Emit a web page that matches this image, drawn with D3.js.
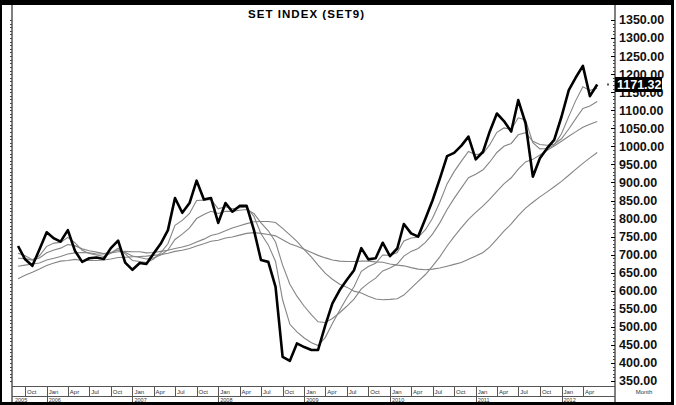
<!DOCTYPE html>
<html><head><meta charset="utf-8">
<script src="https://cdn.jsdelivr.net/npm/d3@7"></script>
<style>body{margin:0;background:#fff}svg{display:block}</style>
</head><body><svg id="c" width="676" height="405"></svg>
<script>
// ---- data (monthly, Sep 2005 .. Jun 2012) ----
const startMonth = "2005-09";
const endMonth = "2012-06";
const price = [724,687,669,714,
  762,745,736,768,711,680,690,692,688,718,739,678,
  658,677,674,703,730,768,857,816,843,905,853,857,
  788,843,819,835,835,768,685,680,611,417,406,454,
  444,436,436,505,565,602,630,657,718,687,690,733,
  696,717,785,759,750,800,850,910,973,982,1002,1027,
  964,985,1040,1091,1070,1041,1128,1064,916,967,995,1018,
  1082,1156,1190,1223,1139,1171.32];
const avgFast = [704,697,686,697,
  723,732,734,748,733,712,703,699,695,704,718,702,
  684,681,678,688,705,730,781,795,814,850,851,853,
  827,833,827,830,832,806,758,727,681,575,507,486,
  469,456,448,471,509,546,580,611,654,667,676,699,
  698,706,738,746,748,769,801,845,896,930,959,986,
  977,980,1004,1039,1051,1047,1079,1073,1010,993,994,1004,
  1035,1083,1126,1165,1155,1161];
const avgMid = [690,689,685,691,
  705,713,718,728,725,716,711,707,703,706,713,706,
  696,692,688,691,699,713,742,757,774,800,811,820,
  814,820,820,823,825,814,788,766,735,671,618,585,
  557,533,514,512,523,539,557,577,605,621,635,655,
  663,674,696,709,717,734,757,788,825,856,885,913,
  923,935,956,983,1000,1008,1032,1038,1014,1005,1003,1006,
  1021,1048,1076,1105,1112,1124];
const avgSlow = [668,671,674,677,
  685,690,695,702,705,706,705,702,702,705,708,709,
  708,708,705,706,709,712,717,721,727,735,743,753,
  758,766,774,780,786,791,792,792,789,773,755,737,
  714,693,671,648,632,618,610,599,594,585,577,575,
  576,578,588,607,626,645,668,694,724,750,775,798,
  817,835,853,875,896,913,937,957,964,976,989,1001,
  1014,1028,1040,1053,1061,1069];
const avgLong = [633,643,651,660,
  670,677,682,684,687,684,684,684,685,688,692,693,
  694,695,696,698,700,704,709,712,717,724,730,737,
  740,746,749,754,759,761,759,756,752,741,730,723,
  715,706,698,691,685,682,681,681,682,682,680,679,
  674,671,669,664,660,658,660,663,668,673,678,687,
  696,706,721,743,765,785,808,829,845,860,874,888,
  903,920,936,953,968,983];
const yTicks = [350,400,450,500,550,600,650,700,750,800,850,900,950,1000,1050,1100,1150,1200,1250,1300,1350];
const quarterTicks = ["2005-10","2006-01","2006-04","2006-07","2006-10","2007-01","2007-04","2007-07","2007-10",
  "2008-01","2008-04","2008-07","2008-10","2009-01","2009-04","2009-07","2009-10","2010-01","2010-04","2010-07","2010-10",
  "2011-01","2011-04","2011-07","2011-10","2012-01","2012-04"];
const yearTicks = ["2006","2007","2008","2009","2010","2011","2012"];
const firstYear = "2005";
const lastValue = 1171.32;
const title = "SET INDEX (SET9)";

// ---- drawing ----
const parseM = d3.utcParse("%Y-%m");
const parseY = d3.utcParse("%Y");
const months = d3.utcMonth.range(parseM(startMonth), d3.utcMonth.offset(parseM(endMonth), 1));
const svg = d3.select("#c");
const FONT = "'Liberation Sans', Arial, sans-serif";

const L = 12, R = 615, T = 5, B = 386;
const x = d3.scaleUtc().domain([parseY("2006"), parseY("2012")]).range([46.7, 561.5]);
const y = d3.scaleLinear().domain([350, 1350]).range([381, 20]);

svg.append("rect").attr("width", 676).attr("height", 405).attr("fill", "#fff");

svg.append("clipPath").attr("id", "clip").append("rect")
  .attr("x", L + 1).attr("y", T).attr("width", R - L - 1).attr("height", B - T);
const g = svg.append("g").attr("clip-path", "url(#clip)");

const line = d3.line().x((d, i) => x(months[i])).y(d => y(d));
[avgLong, avgSlow, avgMid, avgFast].forEach(s => {
  g.append("path").datum(s).attr("d", line).attr("fill", "none")
    .attr("stroke", "#858585").attr("stroke-width", 1.1);
});
g.append("path").datum(price).attr("d", line).attr("fill", "none")
  .attr("stroke", "#000").attr("stroke-width", 2.6).attr("stroke-linejoin", "round");

// title
svg.append("text").attr("x", 306).attr("y", 18).attr("text-anchor", "middle")
  .attr("font-family", FONT).attr("font-weight", "bold").attr("font-size", 11.5)
  .attr("textLength", 116).text(title);

// axes lines
svg.append("line").attr("x1", R).attr("x2", R).attr("y1", T).attr("y2", 403).attr("stroke", "#000").attr("stroke-width", 1);
svg.append("line").attr("x1", L).attr("x2", L).attr("y1", T).attr("y2", 403).attr("stroke", "#000").attr("stroke-width", 1);

// minor ticks
const minor = d3.range(350, 1351, 10);
svg.append("g").selectAll("line").data(minor).join("line")
  .attr("x1", R - 2).attr("x2", R).attr("y1", d => Math.round(y(d)) + 0.5).attr("y2", d => Math.round(y(d)) + 0.5)
  .attr("stroke", "#444").attr("stroke-width", 1);
svg.append("g").selectAll("line").data(minor).join("line")
  .attr("x1", L - 2).attr("x2", L).attr("y1", d => Math.round(y(d)) + 0.5).attr("y2", d => Math.round(y(d)) + 0.5)
  .attr("stroke", "#444").attr("stroke-width", 1);
svg.append("g").selectAll("line").data(yTicks).join("line")
  .attr("x1", R - 4).attr("x2", R).attr("y1", d => Math.round(y(d)) + 0.5).attr("y2", d => Math.round(y(d)) + 0.5)
  .attr("stroke", "#000").attr("stroke-width", 1);

// y labels
svg.append("g").selectAll("text").data(yTicks).join("text")
  .attr("x", 619).attr("y", d => y(d) + 4.4)
  .attr("font-family", FONT).attr("font-weight", "bold").attr("font-size", 12.5)
  .attr("fill", "#111").text(d => d3.format(".2f")(d));

// last value marker
const ly = y(lastValue);
svg.append("rect").attr("x", R).attr("y", ly - 7.5).attr("width", 47).attr("height", 15).attr("fill", "#000");
svg.append("text").attr("x", 617).attr("y", ly + 4.4)
  .attr("font-family", FONT).attr("font-weight", "bold").attr("font-size", 12.5)
  .attr("fill", "#fff").text(d3.format(".2f")(lastValue));
svg.append("rect").attr("x", 607).attr("y", ly - 1).attr("width", 2).attr("height", 2).attr("fill", "#555");

// bottom bands
svg.append("line").attr("x1", L).attr("x2", R).attr("y1", B + 0.5).attr("y2", B + 0.5).attr("stroke", "#555");
svg.append("line").attr("x1", L).attr("x2", R).attr("y1", 396.5).attr("y2", 396.5).attr("stroke", "#555");
const qDates = quarterTicks.map(parseM);
svg.append("g").selectAll("line").data(qDates).join("line")
  .attr("x1", d => Math.round(x(d)) + 0.5).attr("x2", d => Math.round(x(d)) + 0.5)
  .attr("y1", B).attr("y2", 396).attr("stroke", "#555");
svg.append("g").selectAll("text").data(qDates).join("text")
  .attr("x", d => x(d) + 2).attr("y", 393.5)
  .attr("font-family", FONT).attr("font-size", 6).attr("fill", "#333")
  .text(d => d3.utcFormat("%b")(d));
const yDates = yearTicks.map(parseY);
svg.append("g").selectAll("line").data(yDates).join("line")
  .attr("x1", d => Math.round(x(d)) + 0.5).attr("x2", d => Math.round(x(d)) + 0.5)
  .attr("y1", 396).attr("y2", 402).attr("stroke", "#555");
svg.append("g").selectAll("text").data(yDates).join("text")
  .attr("x", d => x(d) + 2).attr("y", 401.8)
  .attr("font-family", FONT).attr("font-size", 5.5).attr("fill", "#333")
  .text(d => d3.utcFormat("%Y")(d));
svg.append("text").attr("x", 15).attr("y", 401.8)
  .attr("font-family", FONT).attr("font-size", 5.5).attr("fill", "#333").text(firstYear);
svg.append("text").attr("x", 644).attr("y", 393.5).attr("text-anchor", "middle")
  .attr("font-family", FONT).attr("font-size", 6).attr("fill", "#333").text("Month");

// frame
svg.append("rect").attr("x", 0).attr("y", 0).attr("width", 674).attr("height", 5).attr("fill", "#000");
svg.append("rect").attr("x", 0).attr("y", 0).attr("width", 2).attr("height", 405).attr("fill", "#000");
svg.append("rect").attr("x", 671).attr("y", 0).attr("width", 3).attr("height", 405).attr("fill", "#000");
svg.append("rect").attr("x", 0).attr("y", 402).attr("width", 674).attr("height", 3).attr("fill", "#000");
</script></body></html>
